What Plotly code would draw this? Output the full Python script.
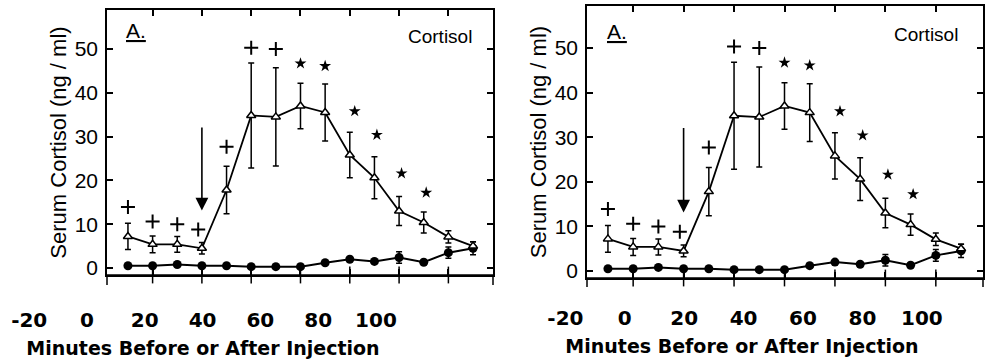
import plotly.graph_objects as go

# sampling times (min) and group means / SEM
minutes = [-10, 0, 10, 20, 30, 40, 50, 60, 70, 80, 90, 100, 110, 120, 130]
tri_mean = [7.2, 5.4, 5.4, 4.5, 17.8, 34.8, 34.5, 37.0, 35.5, 25.8, 20.6, 13.0, 10.4, 7.1, 5.0]
tri_err = [3.0, 1.9, 1.8, 1.3, 5.4, 12.0, 11.2, 5.2, 6.5, 5.2, 4.8, 3.3, 2.4, 1.4, 1.0]
dot_mean = [0.5, 0.5, 0.8, 0.5, 0.5, 0.3, 0.3, 0.3, 1.2, 2.0, 1.5, 2.4, 1.3, 3.5, 4.5]
dot_err = [0.3, 0.3, 0.3, 0.3, 0.3, 0.2, 0.2, 0.3, 0.4, 0.4, 0.4, 1.3, 0.4, 1.3, 1.5]

# significance marks
plus_x = [-10, 0, 10, 18.5, 30, 40, 50]
plus_y = [13.9, 10.6, 10.0, 8.8, 27.7, 50.3, 50.0]
star_x = [60, 70, 82, 91, 101, 111]
star_y = [46.7, 46.1, 35.8, 30.4, 21.6, 17.2]

# injection arrow
arrow_x = 20
arrow_top = 32.4
arrow_tip = 13.1

y_ticks = [0, 10, 20, 30, 40, 50]
x_ticks = [0, 20, 40, 60, 80, 100, 120, 140]
x_label_vals = [-20, 0, 20, 40, 60, 80, 100]
x_label_text = ["-20", "0", "20", "40", "60", "80", "100"]

FONT = "Liberation Sans, Arial, sans-serif"
BOLD = "DejaVu Sans, sans-serif"
W, H = 989, 360

fig = go.Figure()

panels = [
    dict(x="x", y="y", xl="x3", yd="y3"),
    dict(x="x2", y="y2", xl="x4", yd="y4"),
]

# geometry in pixels (left, right, top, bottom) and axis ranges
geo = [
    dict(l=107, r=493, t=10, b=275, xr=[-18.5, 138.1], yr=[-1.6, 58.9], ext=285,
         lab_dom=[0, 406], lab_rng=[-30.1, 110.4], lab_pos=306,
         a_x=136, a_y=30, c_x=440, c_y=37),
    dict(l=587, r=983, t=6, b=278, xr=[-18.3, 138.7], yr=[-1.57, 59.4], ext=287,
         lab_dom=[495, 989], lab_rng=[-43.7, 122.6], lab_pos=304,
         a_x=617, a_y=31, c_x=926, c_y=35),
]

for p, g in zip(panels, geo):
    fig.add_trace(go.Scatter(
        x=minutes, y=dot_mean, xaxis=p["x"], yaxis=p["y"],
        mode="lines+markers",
        line=dict(color="black", width=2),
        marker=dict(symbol="circle", size=9, color="black"),
        error_y=dict(type="data", array=dot_err, color="black", thickness=1.5, width=3),
        showlegend=False,
    ))
    fig.add_trace(go.Scatter(
        x=minutes, y=tri_mean, xaxis=p["x"], yaxis=p["y"],
        mode="lines+markers",
        line=dict(color="black", width=1.8),
        marker=dict(symbol="triangle-up", size=8, color="white",
                    line=dict(color="black", width=1.5)),
        error_y=dict(type="data", array=tri_err, color="black", thickness=1.5, width=3),
        showlegend=False,
    ))
    fig.add_trace(go.Scatter(
        x=plus_x, y=plus_y, xaxis=p["x"], yaxis=p["y"], mode="markers",
        marker=dict(symbol="cross-thin", size=10, line=dict(color="black", width=2)),
        showlegend=False,
    ))
    fig.add_trace(go.Scatter(
        x=star_x, y=star_y, xaxis=p["x"], yaxis=p["y"], mode="markers",
        marker=dict(symbol="star", size=9, color="black"),
        showlegend=False,
    ))
    # bottom ticks cross the axis line
    fig.add_trace(go.Scatter(
        x=x_ticks, y=[g["yr"][0]] * len(x_ticks), xaxis=p["x"], yaxis=p["y"], mode="markers",
        marker=dict(symbol="line-ns", size=12, line=dict(color="black", width=1.5)),
        cliponaxis=False, showlegend=False, hoverinfo="skip",
    ))
    # empty trace so the free label axis gets drawn (on a hidden y axis)
    fig.add_trace(go.Scatter(x=[], y=[], xaxis=p["xl"], yaxis=p["yd"],
                             showlegend=False, hoverinfo="skip"))

    fig.add_annotation(
        x=arrow_x, y=arrow_tip, ax=arrow_x, ay=arrow_top,
        xref=p["x"], yref=p["y"], axref=p["x"], ayref=p["y"],
        showarrow=True, arrowhead=2, arrowsize=1.6, arrowwidth=1.6, arrowcolor="black", text="",
    )

layout = {}
for p, g in zip(panels, geo):
    xdom = [g["l"] / W, g["r"] / W]
    ydom = [1 - g["b"] / H, 1 - g["t"] / H]
    xn = p["x"].replace("x", "xaxis")
    yn = p["y"].replace("y", "yaxis")
    xl = p["xl"].replace("x", "xaxis")
    ydn = p["yd"].replace("y", "yaxis")
    layout[xn] = dict(domain=xdom, range=g["xr"], anchor=p["y"], automargin=False,
                      showline=True, linecolor="black", linewidth=1.5, mirror="ticks",
                      ticks="inside", ticklen=6, tickwidth=1.5, tickcolor="black",
                      tickvals=x_ticks, showticklabels=False, showgrid=False, zeroline=False)
    layout[yn] = dict(domain=ydom, range=g["yr"], anchor=p["x"], automargin=False,
                      showline=True, linecolor="black", linewidth=1.5, mirror="ticks",
                      ticks="inside", ticklen=6, tickwidth=1.5, tickcolor="black",
                      tickvals=y_ticks, tickfont=dict(family=FONT, size=21, color="black"),
                      ticklabelstandoff=3, showgrid=False, zeroline=False,
                      title=dict(text="Serum Cortisol (ng / ml)",
                                 font=dict(family=FONT, size=22, color="black"), standoff=2))
    # the printed minute labels sit on their own (offset) scale below each panel
    layout[xl] = dict(domain=[g["lab_dom"][0] / W, g["lab_dom"][1] / W], range=g["lab_rng"],
                      anchor="free", position=1 - g["lab_pos"] / H, automargin=False,
                      showline=False, ticks="", tickvals=x_label_vals, ticktext=x_label_text,
                      tickfont=dict(family=BOLD, size=20, color="black", weight="bold"),
                      showgrid=False, zeroline=False,
                      title=dict(text="Minutes Before or After Injection",
                                 font=dict(family=BOLD, size=19, color="black", weight="bold"),
                                 standoff=10))
    layout[ydn] = dict(domain=[0, 0.01], anchor="free", position=0, visible=False,
                       range=[0, 1], automargin=False)

    # bottom frame line, and the frame sides running a little below it
    fig.add_shape(type="line", xref=f"{p['x']} domain", yref=f"{p['y']} domain",
                  x0=0, x1=1, y0=0, y1=0, line=dict(color="black", width=1.5))
    for xd in (0, 1):
        fig.add_shape(type="line", xref=f"{p['x']} domain", yref="paper",
                      x0=xd, x1=xd, y0=1 - g["b"] / H, y1=1 - g["ext"] / H,
                      line=dict(color="black", width=1.5))

    fig.add_annotation(x=g["a_x"] / W, y=1 - g["a_y"] / H, xref="paper", yref="paper",
                       xanchor="center", yanchor="middle",
                       text="<u>A.</u>", showarrow=False,
                       font=dict(family=FONT, size=21, color="black"))
    fig.add_annotation(x=g["c_x"] / W, y=1 - g["c_y"] / H, xref="paper", yref="paper",
                       xanchor="center", yanchor="middle",
                       text="Cortisol", showarrow=False,
                       font=dict(family=FONT, size=19, color="black"))

fig.update_layout(
    width=W, height=H,
    margin=dict(l=0, r=0, t=0, b=0, autoexpand=False),
    paper_bgcolor="white", plot_bgcolor="rgba(0,0,0,0)",
    font=dict(family=FONT, color="black"),
    showlegend=False,
    **layout,
)

# the page's default body margin would shift the 989x360 figure
fig.write_html("out.html", config={"displayModeBar": False},
               post_script="document.body.style.margin = '0px';")
